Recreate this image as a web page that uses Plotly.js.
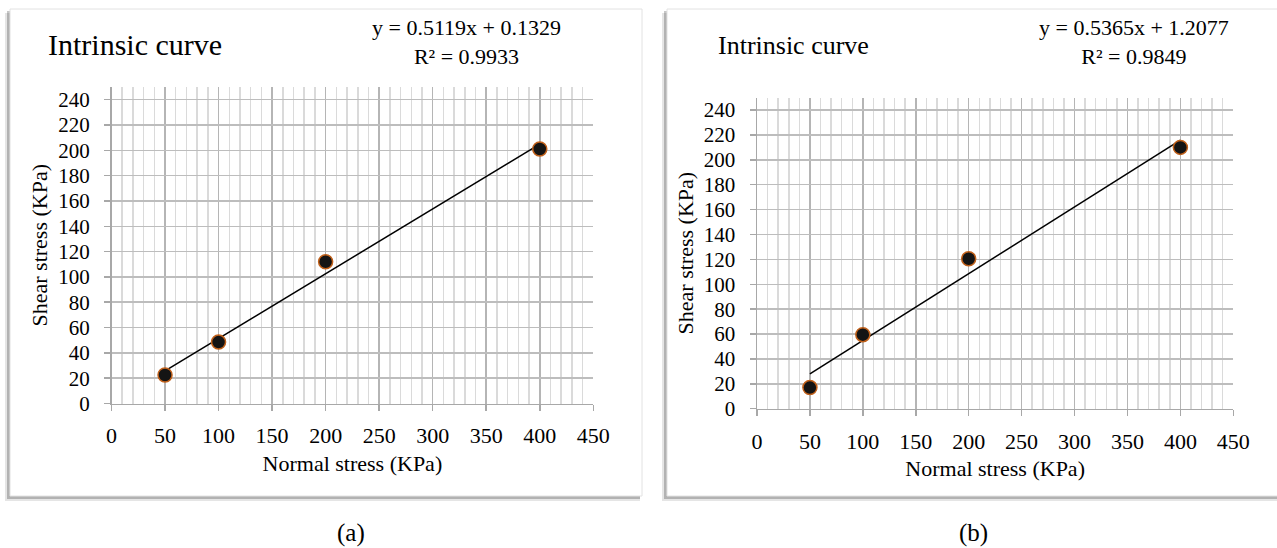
<!DOCTYPE html>
<html>
<head>
<meta charset="utf-8">
<script src="https://cdn.plot.ly/plotly-3.0.1.min.js"></script>
<style>
html,body{margin:0;padding:0;background:#fff;}
#chart{width:1277px;height:548px;}
</style>
</head>
<body>
<div id="chart"></div>
<script>
// ---- Data ----
const normalStress = [50, 100, 200, 400];
const shearStressA = [22.5, 48.5, 112, 201];
const shearStressB = [17, 59.5, 120.5, 210];
// trendline coefficients as printed on the chart
const fitA = {slope: 0.5119, intercept: 0.1329, r2: 0.9933};
const fitB = {slope: 0.5365, intercept: 1.2077, r2: 0.9849};
const xTickVals = [0, 50, 100, 150, 200, 250, 300, 350, 400, 450];
const yTickVals = [0, 20, 40, 60, 80, 100, 120, 140, 160, 180, 200, 220, 240];
const chartTitle = "Intrinsic curve";
const xTitle = "Normal stress (KPa)";
const yTitle = "Shear stress (KPa)";
const panelLabels = ["(a)", "(b)"];

// ---- Layout helpers ----
const W = 1277, H = 548;
const px = v => v / W;
const py = v => 1 - v / H;
const FONT = "Times New Roman, Liberation Serif, Tinos, DejaVu Serif, serif";

function trend(fit) {
  const xs = [Math.min(...normalStress), Math.max(...normalStress)];
  return {x: xs, y: xs.map(x => fit.slope * x + fit.intercept)};
}
const tA = trend(fitA), tB = trend(fitB);

const markerStyle = {size: 14, color: '#141414', line: {color: '#c0601a', width: 1.5}};

const traces = [
  {x: tA.x, y: tA.y, mode: 'lines', line: {color: '#000', width: 1.5}, xaxis: 'x', yaxis: 'y', hoverinfo: 'skip'},
  {x: normalStress, y: shearStressA, mode: 'markers', marker: markerStyle, xaxis: 'x', yaxis: 'y'},
  {x: tB.x, y: tB.y, mode: 'lines', line: {color: '#000', width: 1.5}, xaxis: 'x2', yaxis: 'y2', hoverinfo: 'skip'},
  {x: normalStress, y: shearStressB, mode: 'markers', marker: markerStyle, xaxis: 'x2', yaxis: 'y2'}
];

function xAxis(domain, anchor, standoff) {
  return {
    domain: domain, anchor: anchor, range: [0, 450],
    tickvals: xTickVals, ticktext: xTickVals.map(String),
    showgrid: true, gridcolor: '#b5b5b5', gridwidth: 1.5,
    minor: {dtick: 10, tick0: 0, showgrid: true, gridcolor: '#dadada', gridwidth: 1.5, ticks: ''},
    showline: true, linecolor: '#a8a8a8', linewidth: 1.5,
    ticks: 'outside', ticklen: 6, tickcolor: '#a8a8a8', tickwidth: 1.5,
    ticklabelstandoff: 6,
    zeroline: false,
    tickfont: {family: FONT, size: 22, color: '#000'},
    title: {text: xTitle, font: {family: FONT, size: 22, color: '#000'}, standoff: standoff},
    fixedrange: true
  };
}
function yAxis(domain, anchor, standoff, tfs) {
  return {
    domain: domain, anchor: anchor, range: [0, 250],
    tickvals: yTickVals, ticktext: yTickVals.map(String),
    showgrid: true, gridcolor: '#bdbdbd', gridwidth: 1.5,
    showline: true, linecolor: '#a8a8a8', linewidth: 1.5,
    ticks: 'outside', ticklen: 6, tickcolor: '#a8a8a8', tickwidth: 1.5,
    ticklabelstandoff: 10,
    zeroline: false,
    tickfont: {family: FONT, size: tfs, color: '#000'},
    title: {text: yTitle, font: {family: FONT, size: 22, color: '#000'}, standoff: standoff},
    fixedrange: true
  };
}

const shapes = [
  {type: 'rect', xref: 'paper', yref: 'paper', x0: px(5), x1: px(640), y0: py(501), y1: py(13), fillcolor: 'rgba(0,0,0,0.10)', line: {width: 0}, layer: 'below'},
  {type: 'rect', xref: 'paper', yref: 'paper', x0: px(7), x1: px(640), y0: py(499), y1: py(11), fillcolor: 'rgba(0,0,0,0.22)', line: {width: 0}, layer: 'below'},
  {type: 'rect', xref: 'paper', yref: 'paper', x0: px(10), x1: px(642), y0: py(496), y1: py(9), fillcolor: '#ffffff', line: {color: '#e2e2e2', width: 1}, layer: 'below'},
  {type: 'rect', xref: 'paper', yref: 'paper', x0: px(662), x1: px(1290), y0: py(501), y1: py(13), fillcolor: 'rgba(0,0,0,0.10)', line: {width: 0}, layer: 'below'},
  {type: 'rect', xref: 'paper', yref: 'paper', x0: px(664), x1: px(1290), y0: py(499), y1: py(11), fillcolor: 'rgba(0,0,0,0.22)', line: {width: 0}, layer: 'below'},
  {type: 'rect', xref: 'paper', yref: 'paper', x0: px(667), x1: px(1290), y0: py(496), y1: py(9), fillcolor: '#ffffff', line: {color: '#e2e2e2', width: 1}, layer: 'below'}
];

const annotations = [
  {xref: 'paper', yref: 'paper', x: px(46), y: py(45), xanchor: 'left', yanchor: 'middle', showarrow: false,
   text: chartTitle, font: {family: FONT, size: 30, color: '#000'}},
  {xref: 'paper', yref: 'paper', x: px(467), y: py(42), xanchor: 'center', yanchor: 'middle', showarrow: false, align: 'center',
   text: 'y = ' + fitA.slope.toFixed(4) + 'x + ' + fitA.intercept.toFixed(4) + '<br>R² = ' + fitA.r2.toFixed(4),
   font: {family: FONT, size: 22, color: '#000'}},
  {xref: 'paper', yref: 'paper', x: px(716), y: py(46), xanchor: 'left', yanchor: 'middle', showarrow: false,
   text: chartTitle, font: {family: FONT, size: 26, color: '#000'}},
  {xref: 'paper', yref: 'paper', x: px(1134), y: py(42), xanchor: 'center', yanchor: 'middle', showarrow: false, align: 'center',
   text: 'y = ' + fitB.slope.toFixed(4) + 'x + ' + fitB.intercept.toFixed(4) + '<br>R² = ' + fitB.r2.toFixed(4),
   font: {family: FONT, size: 22, color: '#000'}},
  {xref: 'paper', yref: 'paper', x: px(351), y: py(533), xanchor: 'center', yanchor: 'middle', showarrow: false,
   text: panelLabels[0], font: {family: FONT, size: 25, color: '#000'}},
  {xref: 'paper', yref: 'paper', x: px(973), y: py(533), xanchor: 'center', yanchor: 'middle', showarrow: false,
   text: panelLabels[1], font: {family: FONT, size: 25, color: '#000'}}
];

const layout = {
  width: W, height: H,
  margin: {l: 0, r: 0, t: 0, b: 0},
  font: {family: FONT},
  paper_bgcolor: '#ffffff', plot_bgcolor: 'rgba(0,0,0,0)',
  showlegend: false,
  xaxis: xAxis([px(111.5), px(593.3)], 'y', 8),
  yaxis: yAxis([py(403.5), py(87)], 'x', 4, 21),
  xaxis2: xAxis([px(757), px(1233.3)], 'y2', 8),
  yaxis2: yAxis([py(408.7), py(97.6)], 'x2', 4, 21),
  shapes: shapes,
  annotations: annotations
};

Plotly.newPlot('chart', traces, layout, {displayModeBar: false, staticPlot: true});
</script>
</body>
</html>
